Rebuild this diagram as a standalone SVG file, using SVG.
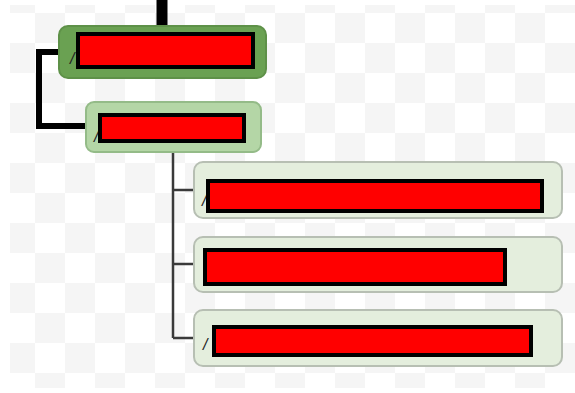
<svg xmlns="http://www.w3.org/2000/svg" width="575" height="393" viewBox="0 0 575 393">
  <defs>
    <pattern id="checker" x="5" y="13" width="60" height="60" patternUnits="userSpaceOnUse">
      <rect x="0" y="0" width="60" height="60" fill="#ffffff"/>
      <rect x="30" y="0" width="30" height="30" fill="#f5f5f5"/>
      <rect x="0" y="30" width="30" height="30" fill="#f5f5f5"/>
    </pattern>
  </defs>
  <style>
    .redact { fill: #ff0000; stroke: #000000; stroke-width: 4; }
    .n1 { fill: #6aa152; stroke: #5e9148; stroke-width: 2; }
    .n2 { fill: #b4d6a6; stroke: #94bb88; stroke-width: 2; }
    .n3 { fill: #e4eedd; stroke: #b7bfb3; stroke-width: 2; }
    .thick { fill: none; stroke: #000000; stroke-width: 6; }
    .thin { fill: none; stroke: #3a3a3a; stroke-width: 2.5; }
    .frag { font-family: "Liberation Sans", Arial, sans-serif; font-size: 16px; fill: #222222; font-style: italic; }
  </style>
  <rect x="0" y="0" width="575" height="393" fill="#ffffff"/>
  <rect x="10" y="5" width="565" height="383" fill="url(#checker)"/>

  <g id="connectors">
    <line x1="162" y1="0" x2="162" y2="26" stroke="#000000" stroke-width="11"/>
    <polyline class="thick" points="60,52 39,52 39,126 86,126"/>
    <polyline class="thin" points="173,153 173,338"/>
    <line class="thin" x1="173" y1="190" x2="194" y2="190"/>
    <line class="thin" x1="173" y1="264" x2="194" y2="264"/>
    <line class="thin" x1="173" y1="338" x2="194" y2="338"/>
  </g>

  <g id="node-root">
    <rect class="n1" x="59" y="26" width="207" height="52" rx="9"/>
    <text class="frag" x="70" y="64">/</text>
    <rect class="redact" x="78" y="34" width="175" height="33"/>
  </g>

  <g id="node-mid">
    <rect class="n2" x="86" y="102" width="175" height="50" rx="8"/>
    <text class="frag" x="94" y="142">/</text>
    <rect class="redact" x="100" y="115" width="144" height="26"/>
  </g>

  <g id="node-child1">
    <rect class="n3" x="194" y="162" width="368" height="56" rx="9"/>
    <text class="frag" x="202" y="206">/</text>
    <rect class="redact" x="208" y="181" width="334" height="30"/>
  </g>

  <g id="node-child2">
    <rect class="n3" x="194" y="237" width="368" height="55" rx="9"/>
    <rect class="redact" x="205" y="250" width="300" height="34"/>
  </g>

  <g id="node-child3">
    <rect class="n3" x="194" y="310" width="368" height="56" rx="9"/>
    <text class="frag" x="203" y="350">/</text>
    <rect class="redact" x="214" y="327" width="317" height="28"/>
  </g>
</svg>
